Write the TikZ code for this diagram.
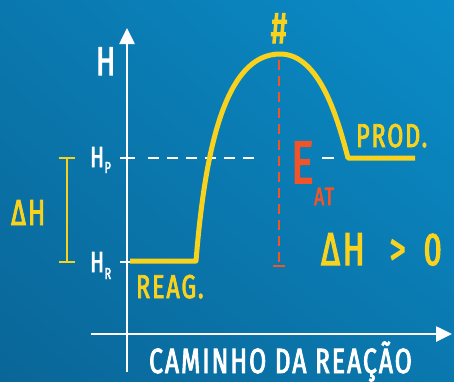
\documentclass[tikz,border=0pt]{standalone}
\usepackage{fontspec}
\newfontfamily\handfont[FakeStretch=0.7, FakeBold=2.6, LetterSpace=6]{Fira Sans}
\usetikzlibrary{arrows.meta,positioning,shadings}

\definecolor{bgDark}{HTML}{0A6698}
\definecolor{bgMid}{HTML}{0A78AE}
\definecolor{bgLight}{HTML}{0A8CC8}
\definecolor{curveYellow}{HTML}{F9D21E}
\definecolor{eatRed}{HTML}{F2542A}

\begin{document}
\begin{tikzpicture}[
    x=1pt, y=-1pt,
    font=\handfont,
    axisLine/.style={
        draw=white, line width=2.6pt, -{Triangle[length=16pt, width=15pt]}
    },
    tickLine/.style={draw=white, line width=2.6pt},
    levelDash/.style={draw=white, line width=2.6pt, dash pattern=on 11pt off 8pt},
    pathCurve/.style={draw=curveYellow, line width=5pt, line join=round},
    eatDash/.style={draw=eatRed, line width=2.8pt, dash pattern=on 10pt off 6pt},
    deltaBar/.style={draw=curveYellow, line width=2.6pt},
    whiteLabel/.style={text=white, inner sep=0pt, anchor=base west},
    yellowLabel/.style={text=curveYellow, inner sep=0pt, anchor=base west},
    redLabel/.style={text=eatRed, inner sep=0pt, anchor=base west}
]
\useasboundingbox (0,0) rectangle (454,381);

% Background
\shade[upper left=bgMid, upper right=bgLight, lower left=bgDark, lower right=bgMid]
    (0,0) rectangle (454,381);

% Axes
\coordinate (yBase) at (127,372);
\coordinate (yTip) at (127,28);
\coordinate (xBase) at (91,334);
\coordinate (xTip) at (452,334);
\draw[axisLine] (yBase) -- (yTip);
\draw[axisLine] (xBase) -- (xTip);

% Energy levels
\coordinate (hpTick) at (120,158);
\coordinate (hrTick) at (120,262);
\draw[tickLine] (hpTick) -- ++(15,0);
\draw[tickLine] (hrTick) -- ++(10,0);
\coordinate (hpDashA) at (148,158);
\coordinate (hpDashB) at (258,158);
\coordinate (hpDashC) at (322,158);
\coordinate (hpDashD) at (334,158);
\draw[levelDash] (hpDashA) -- (hpDashB);
\draw[tickLine] (hpDashC) -- (hpDashD);

% Activation energy
\coordinate (peakTop) at (279,60);
\coordinate (peakFoot) at (279,266);
\draw[eatDash] (peakTop) -- (peakFoot);
\draw[eatRed, line width=2.8pt] (273,266) -- (285,266);

% Reaction path
\coordinate (reagStart) at (130,261);
\coordinate (reagEnd) at (196,261);
\coordinate (peak) at (280,54);
\coordinate (prodStart) at (348,158);
\coordinate (prodEnd) at (415,158);
\draw[pathCurve] (reagStart) -- (reagEnd)
    .. controls (205,150) and (225,54) .. (peak)
    .. controls (320,54) and (338,120) .. (prodStart) -- (prodEnd);

% Delta H bracket
\coordinate (barTop) at (67,158);
\coordinate (barBot) at (67,262);
\draw[deltaBar] (barTop) -- (barBot);
\draw[deltaBar] ([xshift=-8pt]barTop) -- ([xshift=8pt]barTop);
\draw[deltaBar] ([xshift=-8pt]barBot) -- ([xshift=8pt]barBot);

% Labels
\node[whiteLabel] (hAxis) at (96,75) {\fontsize{40}{40}\selectfont H};
\node[whiteLabel] (hpLabel) at (90,167) {\fontsize{29}{29}\selectfont H};
\node[whiteLabel, right=0pt of hpLabel.base east, anchor=base west, yshift=-6pt]
    (hpSub) {\fontsize{16}{16}\selectfont P};
\node[whiteLabel] (hrLabel) at (90,272) {\fontsize{29}{29}\selectfont H};
\node[whiteLabel, right=0pt of hrLabel.base east, anchor=base west, yshift=-7pt]
    (hrSub) {\fontsize{16}{16}\selectfont R};
\node[yellowLabel] (dhLabel) at (11,225) {\fontsize{36}{36}\selectfont ΔH};
\node[yellowLabel, anchor=base] (hashLabel) at (279,43) {\fontsize{44}{44}\selectfont \#};
\node[redLabel] (eLabel) at (291,183) {\fontsize{60}{60}\selectfont E};
\node[redLabel] (atLabel) at (314,205) {\fontsize{25}{25}\selectfont AT};
\node[yellowLabel] (prodLabel) at (356,147) {\fontsize{33}{33}\selectfont PROD.};
\node[yellowLabel] (reagLabel) at (136,298) {\fontsize{33}{33}\selectfont REAG.};
\node[yellowLabel] (dhSign) at (321,265) {\fontsize{46}{46}\selectfont ΔH\hspace{25pt}>\hspace{18pt}0};
\node[whiteLabel] (pathLabel) at (149,373) {\fontsize{35}{35}\selectfont CAMINHO DA REAÇÃO};

\end{tikzpicture}
\end{document}
